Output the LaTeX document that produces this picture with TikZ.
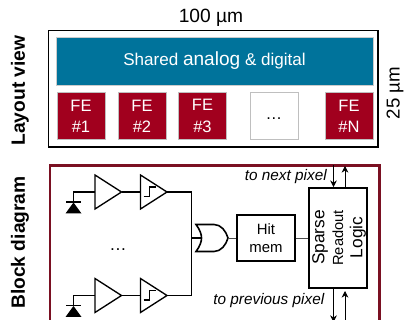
\documentclass[tikz,border=0pt]{standalone}
\usepackage{fontspec}
\setmainfont{Liberation Sans}
\usetikzlibrary{arrows.meta}
\definecolor{teal1}{HTML}{00739B}
\definecolor{fered}{HTML}{A1001E}
\definecolor{darkred}{HTML}{7A1022}
\newcommand{\fsz}[1]{\fontsize{#1}{#1}\selectfont}
\tikzset{
 febox/.style={draw=black!25,line width=.5pt,fill=fered,text=white,minimum width=36pt,minimum height=35pt,inner sep=0pt,align=center,font=\fontsize{12.4}{16}\selectfont},
 blockbox/.style={draw=black,line width=1.3pt,fill=white,inner sep=0pt,align=center},
 wire/.style={draw=black,line width=.9pt},
 thinwire/.style={draw=black!70,line width=.6pt},
 sym/.style={draw=black,line width=1pt,fill=white},
 sidelabel/.style={rotate=90,font=\bfseries\fontsize{14.4}{16}\selectfont},
 note/.style={font=\itshape\fontsize{11.5}{13}\selectfont},
 arr/.style={draw=black,line width=.6pt,-{Stealth[length=5pt,width=5pt]}}}
\newcommand{\amp}[3]{\draw[sym] (#1,#2-17) -- (#1+26.5,#2) -- (#1,#2+17) -- cycle;
 \coordinate (#3in) at (#1,#2); \coordinate (#3out) at (#1+26.5,#2);}
\newcommand{\cmp}[3]{\amp{#1}{#2}{#3}
 \draw[line width=.9pt] (#1+3,#2+4.5) -- (#1+9,#2+4.5) -- (#1+9,#2-5) -- (#1+15,#2-5);}
\newcommand{\dio}[3]{\fill (#1-8,#2+11.5) -- (#1,#2+.5) -- (#1+8,#2+11.5) -- cycle;
 \draw[line width=.9pt] (#1-7.5,#2) -- (#1+7.5,#2);
 \coordinate (#3) at (#1,#2);}
\begin{document}
\begin{tikzpicture}[x=.75pt,y=-.75pt]
\useasboundingbox (0,0) rectangle (404,320);
\fill[white] (0,0) rectangle (404,320);
\draw[line width=1.3pt] (48.5,30.5) rectangle (378,147);
\node[draw=black!20,fill=teal1,text=white,minimum width=237.5pt,minimum height=36pt,inner sep=0pt] (shared) at (214.5,61) {\fsz{12.8}Shared {\fsz{14.3}analog} \& digital};
\node[febox] (fe1) at (81,116) {FE\\\#1};
\node[febox] (fe2) at (142,116) {FE\\\#2};
\node[febox] (fe3) at (202.5,116) {FE\\\#3};
\node[febox,fill=white,text=black] (fex) at (274,116) {\raisebox{-5pt}{…}};
\node[febox] (fen) at (349,116) {FE\\\#N};
\node[font=\fontsize{14.4}{15}\selectfont] (w) at (211,18) {100 µm};
\node[rotate=90,font=\fontsize{14}{15}\selectfont] (h) at (395,93) {25 µm};
\node[sidelabel] (lv) at (20,90.5) {Layout view};
\node[sidelabel] (bd) at (20,242.5) {Block diagram};
\draw[darkred,line width=1.6pt] (50,325) -- (50,165.5) -- (379.5,165.5) -- (379.5,325);
% block diagram
\amp{95}{192}{a1}
\cmp{140.5}{192}{c1}
\amp{95}{295.5}{a2}
\cmp{140.5}{295.5}{c2}
\dio{73.5}{202}{d1}
\dio{73.5}{305.5}{d2}
\coordinate (busT) at (191.5,192);
\coordinate (busB) at (191.5,295.5);
\draw[wire] (d1) |- (a1in);
\draw[wire] (d2) |- (a2in);
\draw[wire] (a1out) -- (c1in);
\draw[wire] (a2out) -- (c2in);
\draw[wire] (c1out) -- (busT) -- (busB) -- (c2out);
\node[font=\fontsize{13}{13}\selectfont,inner sep=0pt] (dots) at (118,250) {…};
% OR gate
\coordinate (orin) at (201.5,238);
\coordinate (orout) at (228,238);
\draw[sym,line width=1.2pt] (196,224.5) -- (214,224.5) .. controls (221,224.5) and (226,231) .. (orout) .. controls (226,245) and (221,251.5) .. (214,251.5) -- (196,251.5) .. controls (200,246) and (201.5,242) .. (orin) .. controls (201.5,234) and (200,230) .. (196,224.5) -- cycle;
\draw[wire] (191.5,238) -- (orin);
\node[blockbox,minimum width=43pt,minimum height=34.5pt,font=\fontsize{11.2}{14}\selectfont] (hit) at (266,238) {Hit\\mem};
\node[blockbox,minimum width=43.5pt,minimum height=75pt] (sr) at (338,238) {};
\node[rotate=90,font=\fontsize{13}{13}\selectfont,inner sep=0pt] (t1) at (320,237.5) {Sparse};
\node[rotate=90,font=\fontsize{11}{11}\selectfont,inner sep=0pt] (t2) at (338,238) {Readout};
\node[rotate=90,font=\fontsize{13}{13}\selectfont,inner sep=0pt] (t3) at (358,237.5) {Logic};
\draw[thinwire] (orout) -- (hit.west);
\draw[thinwire] (hit.east) -- (hit.east -| sr.west);
\coordinate (tA) at (333.5,165);
\coordinate (tB) at (345,166);
\coordinate (bA) at (333.5,322);
\coordinate (bB) at (345,325);
\draw[arr] (tA) -- (tA |- sr.north);
\draw[arr] (tB |- sr.north) -- (tB);
\draw[arr] (bA |- sr.south) -- (bA);
\draw[arr] (bB) -- (345,291);
\node[note,anchor=east,inner sep=0pt] (next) at (327,177) {to next pixel};
\node[note,anchor=east,inner sep=0pt] (prev) at (324.5,301) {to previous pixel};
\end{tikzpicture}
\end{document}
